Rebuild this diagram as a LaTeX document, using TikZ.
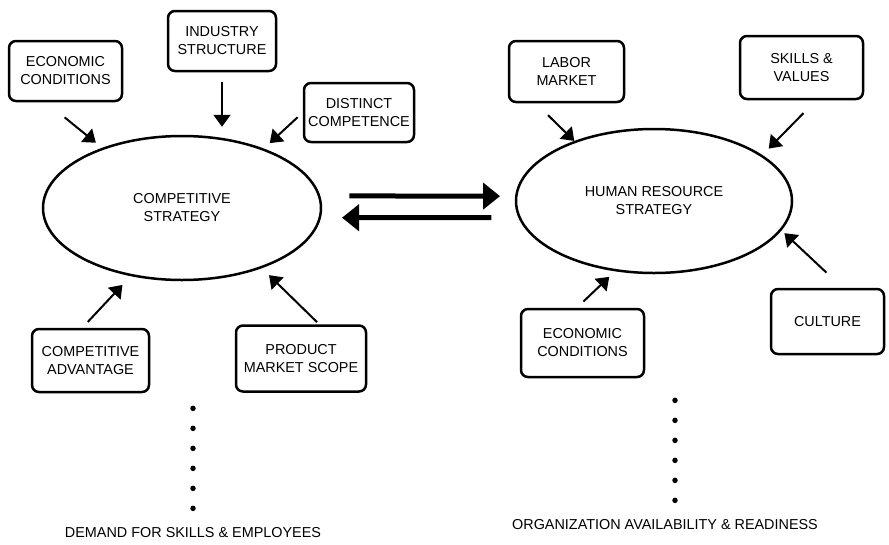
\documentclass[tikz,border=0pt]{standalone}
\usepackage{fontspec}
\setmainfont{Liberation Sans}
\usetikzlibrary{arrows.meta,shapes.geometric}

\begin{document}
\begin{tikzpicture}[x=1pt, y=-1pt,
        box/.style={draw, rectangle, rounded corners=7pt, line width=2.5pt, align=center, font=\Large, inner sep=2pt},
        strat/.style={draw, ellipse, line width=2.5pt, align=center, font=\Large, inner sep=0pt},
        arr/.style={-{Triangle[length=12pt, width=17pt]}, line width=2pt},
        dbl/.style={-{Triangle[length=17pt, width=26pt]}, line width=5pt},
        dots/.style={line width=5.5pt, line cap=round, dash pattern=on 0pt off 20pt},
        lbl/.style={font=\Large}]
        \useasboundingbox (0,0) rectangle (889,544);

        \node (compstrat) [strat, minimum width=278pt, minimum height=144pt] at (182,208) {COMPETITIVE\\STRATEGY};
        \node (hrstrat) [strat, minimum width=276pt, minimum height=144pt] at (654,201) {HUMAN RESOURCE\\STRATEGY};

        \node (econ) [box, minimum width=113pt, minimum height=60pt] at (65.5,71) {ECONOMIC\\CONDITIONS};
        \node (indus) [box, minimum width=108pt, minimum height=60pt] at (222,41) {INDUSTRY\\STRUCTURE};
        \node (dist) [box, minimum width=110pt, minimum height=59pt] at (359,112.5) {DISTINCT\\COMPETENCE};
        \node (compadv) [box, minimum width=117pt, minimum height=63pt] at (90.5,360.5) {COMPETITIVE\\ADVANTAGE};
        \node (prod) [box, minimum width=130pt, minimum height=66pt] at (301,358.5) {PRODUCT\\MARKET SCOPE};

        \node (labor) [box, minimum width=115pt, minimum height=61pt] at (566.5,71.5) {LABOR\\MARKET};
        \node (skills) [box, minimum width=123pt, minimum height=63pt] at (801.5,67.5) {SKILLS \&\\VALUES};
        \node (econhr) [box, minimum width=123pt, minimum height=68pt] at (582.5,343) {ECONOMIC\\CONDITIONS};
        \node (culture) [box, minimum width=113pt, minimum height=65pt] at (827.5,321.5) {CULTURE};

        \node (demand) [lbl] at (193,533) {DEMAND FOR SKILLS \& EMPLOYEES};
        \node (orgav) [lbl] at (665,525) {ORGANIZATION AVAILABILITY \& READINESS};
        \coordinate (orgtop) at ([xshift=10pt]orgav.north);

        \draw[arr, shorten <=24pt, shorten >=8pt] (econ.238) -- (compstrat.143);
        \draw[arr, shorten <=10pt, shorten >=8pt] (indus.south) -- (indus |- compstrat.north);
        \draw[arr, shorten <=7pt, shorten >=8pt] (dist.west) -- (compstrat.36);
        \draw[arr, shorten <=8pt, shorten >=12pt] (compadv.104) -- (compstrat.233);
        \draw[arr, shorten <=3pt, shorten >=10pt] (prod.62) -- (compstrat.323);

        \draw[arr, shorten <=17pt] (labor.226) -- (hrstrat.143);
        \draw[arr, shorten <=18pt, shorten >=9pt] (skills.294) -- (hrstrat.23);
        \draw[arr, shorten <=22pt, shorten >=4pt] (culture.66) -- (hrstrat.347);
        \draw[arr, shorten <=9pt, shorten >=8pt] (econhr.99) -- (hrstrat.241);

        \draw[dbl, shorten <=29pt, shorten >=15pt] (compstrat.5) -- (hrstrat.178);
        \draw[dbl, shorten <=27pt, shorten >=21pt] (hrstrat.187) -- (compstrat.356);

        \draw[dots, shorten <=16pt, shorten >=126pt] (demand.north) -- (demand.north |- compstrat.south);
        \draw[dots, shorten <=16pt, shorten >=123pt] (orgtop) -- (orgtop |- hrstrat.south);
    \end{tikzpicture}
\end{document}
